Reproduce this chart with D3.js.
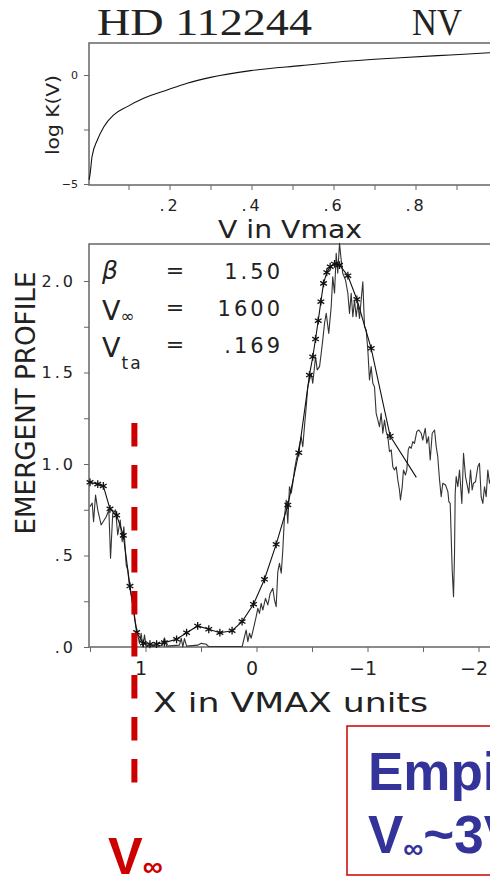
<!DOCTYPE html>
<html>
<head>
<meta charset="utf-8">
<script src="https://cdn.jsdelivr.net/npm/d3@7"></script>
<style>
  body { margin: 0; background: #fff; }
  svg { display: block; }
  .ax text { font-family: "DejaVu Sans", sans-serif; fill: #222; }
</style>
</head>
<body>
<div id="chart"></div>
<script>
// --- top panel: log K(V) against V in Vmax
var vGrid = [0.004, 0.006, 0.011, 0.024, 0.040, 0.064, 0.097, 0.137, 0.194, 0.243, 0.300, 0.398, 0.52, 0.641, 0.763, 0.885, 0.98, 1.0];
var logK  = [-4.8, -4.59, -3.75, -2.98, -2.37, -1.83, -1.45, -1.07, -0.69, -0.38, -0.11, 0.20, 0.43, 0.64, 0.79, 0.92, 1.02, 1.04];
var topXTicks = [0.1, 0.2, 0.3, 0.4, 0.5, 0.6, 0.7, 0.8, 0.9];
var topXLabels = ["", ".2", "", ".4", "", ".6", "", ".8", ""];
var topYTicks = [0, -2.5, -5];
var topYLabels = ["0", "", "\u22125"];

// --- bottom panel: emergent profile, model (stars) and observed spectrum
var modelX = [1.50, 1.43, 1.38, 1.32, 1.26, 1.20, 1.14, 1.08, 1.02, 0.96, 0.90, 0.83, 0.72, 0.63, 0.53, 0.43, 0.33, 0.22, 0.13, 0.027, -0.072, -0.177, -0.282, -0.381, -0.477, -0.507, -0.532, -0.556, -0.58, -0.604, -0.633, -0.664, -0.703, -0.748, -0.823, -0.904, -1.033, -1.204, -1.44];
var modelY = [0.90, 0.89, 0.88, 0.755, 0.72, 0.61, 0.333, 0.08, 0.02, 0.015, 0.016, 0.024, 0.042, 0.078, 0.115, 0.097, 0.078, 0.089, 0.139, 0.234, 0.37, 0.561, 0.776, 1.062, 1.486, 1.586, 1.683, 1.783, 1.887, 1.987, 2.047, 2.078, 2.093, 2.087, 2.029, 1.90, 1.632, 1.153, 0.927];

var obsX = [1.50, 1.48, 1.468, 1.45, 1.43, 1.40, 1.354, 1.33, 1.315, 1.295, 1.27, 1.25, 1.228, 1.21, 1.195, 1.174, 1.16, 1.144, 1.114, 1.09, 1.07, 1.054, 1.039, 1.024, 1.009, 0.994, 0.964, 0.874, 0.847, 0.829, 0.81, 0.694, 0.678, 0.664, 0.649, 0.63, 0.529, 0.498, 0.453, 0.432, 0.129, 0.108, 0.093, 0.078, 0.063, 0.048, 0.027, 0.003, -0.012, -0.027, -0.042, -0.057, -0.081, -0.102, -0.123, -0.147, -0.162, -0.177, -0.192, -0.207, -0.223, -0.237, -0.252, -0.268, -0.282, -0.297, -0.313, -0.327, -0.342, -0.358, -0.372, -0.403, -0.417, -0.432, -0.448, -0.462, -0.477, -0.493, -0.507, -0.532, -0.547, -0.568, -0.583, -0.597, -0.613, -0.628, -0.651, -0.673, -0.687, -0.703, -0.718, -0.732, -0.748, -0.763, -0.777, -0.802, -0.823, -0.838, -0.853, -0.868, -0.883, -0.898, -0.913, -0.928, -0.943, -0.958, -0.973, -0.988, -1.003, -1.018, -1.033, -1.048, -1.063, -1.078, -1.108, -1.123, -1.138, -1.153, -1.168, -1.183, -1.198, -1.214, -1.228, -1.243, -1.259, -1.273, -1.288, -1.297, -1.313, -1.324, -1.342, -1.354, -1.367, -1.378, -1.394, -1.408, -1.423, -1.444, -1.462, -1.484, -1.498, -1.52, -1.534, -1.55, -1.565, -1.583, -1.604, -1.619, -1.633, -1.649, -1.664, -1.678, -1.703, -1.724, -1.733, -1.745, -1.754, -1.763, -1.775, -1.784, -1.79, -1.799, -1.814, -1.829, -1.85, -1.865, -1.883, -1.913, -1.928, -1.943, -1.955, -1.973, -1.994, -2.009, -2.024, -2.039, -2.054, -2.069, -2.084, -2.099, -2.12];
var obsY = [0.767, 0.787, 0.685, 0.83, 0.749, 0.667, 0.712, 0.749, 0.485, 0.731, 0.749, 0.612, 0.694, 0.575, 0.657, 0.448, 0.42, 0.33, 0.239, 0.13, 0.066, 0.02, 0.075, 0.0, 0.066, 0.0, 0.005, 0.005, 0.01, 0.05, 0.005, 0.01, 0.048, 0.0, 0.046, 0.005, 0.01, 0.02, 0.015, 0.003, 0.003, 0.056, 0.093, 0.029, 0.075, 0.048, 0.102, 0.166, 0.211, 0.184, 0.239, 0.202, 0.266, 0.23, 0.293, 0.321, 0.257, 0.22, 0.411, 0.457, 0.403, 0.53, 0.712, 0.803, 0.676, 0.876, 0.84, 0.895, 0.967, 1.022, 1.058, 1.149, 1.094, 1.204, 1.313, 1.422, 1.459, 1.496, 1.441, 1.586, 1.514, 1.532, 1.605, 1.678, 1.769, 1.823, 1.714, 1.86, 2.023, 1.933, 2.151, 2.042, 2.206, 2.115, 2.042, 2.005, 1.933, 1.823, 1.933, 1.805, 1.896, 1.805, 1.878, 1.796, 1.896, 1.996, 1.75, 1.732, 1.623, 1.459, 1.532, 1.441, 1.422, 1.277, 1.204, 1.277, 1.168, 1.24, 1.177, 1.149, 1.067, 1.077, 0.985, 0.967, 0.985, 0.913, 0.858, 0.803, 0.876, 0.967, 0.94, 0.967, 1.077, 1.095, 1.086, 1.122, 1.113, 1.177, 1.186, 1.168, 1.131, 1.195, 1.113, 1.149, 1.022, 1.168, 1.186, 1.095, 1.04, 0.913, 0.821, 0.895, 0.885, 0.849, 0.794, 0.785, 0.603, 0.421, 0.275, 0.512, 0.84, 0.931, 0.876, 0.967, 0.785, 1.058, 0.931, 0.84, 0.967, 0.858, 0.895, 0.903, 0.985, 1.004, 0.821, 0.785, 0.876, 0.821, 0.967, 0.895, 0.94];

var botXTicks = [1.5, 1, 0.5, 0, -0.5, -1, -1.5, -2, -2.5];
var botXLabels = ["", "1", "", "0", "", "\u22121", "", "\u22122", ""];
var botYTicks = [0, 0.25, 0.5, 0.75, 1, 1.25, 1.5, 1.75, 2];
var botYLabels = [".0", "", ".5", "", "1.0", "", "1.5", "", "2.0"];

var params = [
  {name: "\u03b2", sub: "", value: "1.50"},
  {name: "V", sub: "\u221e", value: "1600"},
  {name: "V", sub: "ta", value: ".169"}
];
var vInfX = 1.1;   // red dashed marker, in X (VMAX units)

var W = 490, H = 885;
var svg = d3.select("#chart").append("svg")
  .attr("width", W)
  .attr("height", H)
  .style("background", "#fff");

var ink = "#222", frame = "#666";

// title
svg.append("text")
  .attr("x", 97).attr("y", 35)
  .attr("font-family", "Liberation Serif, serif")
  .attr("font-size", 38)
  .attr("fill", ink)
  .attr("textLength", 215).attr("lengthAdjust", "spacingAndGlyphs")
  .text("HD 112244");
svg.append("text")
  .attr("x", 412).attr("y", 35)
  .attr("font-family", "Liberation Serif, serif")
  .attr("font-size", 38)
  .attr("fill", ink)
  .attr("textLength", 50).attr("lengthAdjust", "spacingAndGlyphs")
  .text("NV");

// ---------- top panel
var x1 = d3.scaleLinear().domain([0, 1]).range([87.5, 497.5]);
var y1 = d3.scaleLinear().domain([-5, 0]).range([184, 75]);
var top1 = 43, bot1 = 185, left1 = 89;

var g1 = svg.append("g");
g1.append("path")
  .attr("d", "M" + W + "," + top1 + "H" + left1 + "V" + bot1 + "H" + W)
  .attr("fill", "none").attr("stroke", frame).attr("stroke-width", 1.5);

var xAxis1 = g1.append("g").attr("class", "ax")
  .attr("transform", "translate(0," + bot1 + ")")
  .call(d3.axisBottom(x1).tickValues(topXTicks).tickSize(5).tickPadding(10)
    .tickFormat((d, i) => topXLabels[i]));
xAxis1.select(".domain").remove();
xAxis1.selectAll("line").attr("stroke", frame);
xAxis1.selectAll("text").attr("font-size", 16).attr("letter-spacing", 3);

var yAxis1 = g1.append("g").attr("class", "ax")
  .attr("transform", "translate(" + left1 + ",0)")
  .call(d3.axisLeft(y1).tickValues(topYTicks).tickSize(5).tickPadding(6)
    .tickFormat((d, i) => topYLabels[i]));
yAxis1.select(".domain").remove();
yAxis1.selectAll("line").attr("stroke", frame);
yAxis1.selectAll("text").attr("font-size", 11);

g1.append("path")
  .datum(d3.range(vGrid.length))
  .attr("fill", "none")
  .attr("stroke", "#111")
  .attr("stroke-width", 1.1)
  .attr("d", d3.line().curve(d3.curveMonotoneX)
    .x(i => x1(vGrid[i])).y(i => y1(logK[i])));

g1.append("text")
  .attr("transform", "translate(59,115) rotate(-90)")
  .attr("text-anchor", "middle")
  .attr("font-family", "DejaVu Sans, sans-serif")
  .attr("font-size", 17).attr("fill", ink)
  .attr("textLength", 80).attr("lengthAdjust", "spacingAndGlyphs")
  .text("log K(V)");

g1.append("text")
  .attr("x", 218).attr("y", 238)
  .attr("font-family", "DejaVu Sans, sans-serif")
  .attr("font-size", 25).attr("fill", ink)
  .attr("textLength", 144).attr("lengthAdjust", "spacingAndGlyphs")
  .text("V in Vmax");

// ---------- bottom panel
var x2 = d3.scaleLinear().domain([1.5, -2.5]).range([90, 534]);
var y2 = d3.scaleLinear().domain([0, 2]).range([647, 281]);
var top2 = 244, bot2 = 647, left2 = 89;

var g2 = svg.append("g");
g2.append("path")
  .attr("d", "M" + W + "," + top2 + "H" + left2 + "V" + bot2 + "H" + W)
  .attr("fill", "none").attr("stroke", frame).attr("stroke-width", 1.5);

var xAxis2 = g2.append("g").attr("class", "ax")
  .attr("transform", "translate(0," + bot2 + ")")
  .call(d3.axisBottom(x2).tickValues(botXTicks).tickSize(5).tickPadding(10)
    .tickFormat((d, i) => botXLabels[i]));
xAxis2.select(".domain").remove();
xAxis2.selectAll("line").attr("stroke", frame);
xAxis2.selectAll("text").attr("font-size", 19).attr("dx", -5);

var yAxis2 = g2.append("g").attr("class", "ax")
  .attr("transform", "translate(" + left2 + ",0)")
  .call(d3.axisLeft(y2).tickValues(botYTicks).tickSize(5).tickPadding(8)
    .tickFormat((d, i) => botYLabels[i]));
yAxis2.select(".domain").remove();
yAxis2.selectAll("line").attr("stroke", frame);
yAxis2.selectAll("text").attr("font-size", 16).attr("letter-spacing", 3);

var plot = g2.append("g");

// observed spectrum
plot.append("path")
  .datum(d3.range(obsX.length))
  .attr("fill", "none")
  .attr("stroke", "#333")
  .attr("stroke-width", 1.1)
  .attr("stroke-linejoin", "round")
  .attr("d", d3.line().x(i => x2(obsX[i])).y(i => y2(obsY[i])));

// model profile
plot.append("path")
  .datum(d3.range(modelX.length))
  .attr("fill", "none")
  .attr("stroke", "#111")
  .attr("stroke-width", 1.1)
  .attr("d", d3.line().x(i => x2(modelX[i])).y(i => y2(modelY[i])));

plot.selectAll(".star")
  .data(d3.range(modelX.length - 1))
  .enter().append("path")
  .attr("class", "star")
  .attr("transform", i => "translate(" + x2(modelX[i]) + "," + y2(modelY[i]) + ")")
  .attr("d", d3.symbol(d3.symbolAsterisk, 42))
  .attr("fill", "none")
  .attr("stroke", "#111")
  .attr("stroke-width", 1.3);

// parameter block
var ff = "DejaVu Sans, sans-serif";
var rowY = [279, 316, 353];
params.forEach((p, i) => {
  var t = g2.append("text")
    .attr("x", 102).attr("y", rowY[i] + (i === 0 ? 0 : 4))
    .attr("font-family", ff).attr("fill", ink)
    .attr("font-size", p.sub ? 27 : 25)
    .attr("font-style", p.sub ? "normal" : "italic");
  t.append("tspan").text(p.name);
  if (p.sub) {
    t.append("tspan")
      .attr("font-size", 17)
      .attr("dy", i === 1 ? 2 : 12)
      .attr("dx", i === 1 ? 0 : 1)
      .attr("letter-spacing", 2)
      .text(p.sub);
  }
  g2.append("text")
    .attr("x", 175).attr("y", rowY[i] - 1)
    .attr("text-anchor", "middle")
    .attr("font-family", ff).attr("font-size", 22).attr("fill", ink)
    .text("=");
  g2.append("text")
    .attr("x", 283).attr("y", rowY[i])
    .attr("text-anchor", "end")
    .attr("font-family", ff).attr("font-size", 21).attr("fill", ink)
    .attr("letter-spacing", 3)
    .text(p.value);
});

g2.append("text")
  .attr("transform", "translate(35,403) rotate(-90)")
  .attr("text-anchor", "middle")
  .attr("font-family", ff)
  .attr("font-size", 27).attr("fill", ink)
  .attr("textLength", 263).attr("lengthAdjust", "spacingAndGlyphs")
  .text("EMERGENT PROFILE");

g2.append("text")
  .attr("x", 153).attr("y", 712)
  .attr("font-family", ff)
  .attr("font-size", 26).attr("fill", ink)
  .attr("textLength", 275).attr("lengthAdjust", "spacingAndGlyphs")
  .text("X in VMAX units");

// ---------- annotations
var red = "#cc0000";
svg.append("line")
  .attr("x1", x2(vInfX)).attr("x2", x2(vInfX))
  .attr("y1", 423).attr("y2", 784)
  .attr("stroke", red).attr("stroke-width", 6)
  .attr("stroke-dasharray", "23.5 18.5");

var vl = svg.append("text")
  .attr("x", 108).attr("y", 874)
  .attr("font-family", "Liberation Sans, Arial, sans-serif")
  .attr("font-weight", "bold").attr("font-size", 52)
  .attr("fill", red);
vl.append("tspan").text("V");
vl.append("tspan").attr("font-size", 28).attr("dy", 2).text("\u221e");

svg.append("rect")
  .attr("x", 347).attr("y", 726)
  .attr("width", 200).attr("height", 149)
  .attr("fill", "none").attr("stroke", red).attr("stroke-width", 1.5);

var blue = "#333399";
svg.append("text")
  .attr("x", 368).attr("y", 790)
  .attr("font-family", "Liberation Sans, Arial, sans-serif")
  .attr("font-weight", "bold").attr("font-size", 53)
  .attr("fill", blue)
  .text("Empirical");
var l2 = svg.append("text")
  .attr("x", 368).attr("y", 853)
  .attr("font-family", "Liberation Sans, Arial, sans-serif")
  .attr("font-weight", "bold").attr("font-size", 53)
  .attr("fill", blue);
l2.append("tspan").text("V");
l2.append("tspan").attr("font-size", 28).attr("dy", 5).text("\u221e");
l2.append("tspan").attr("dy", -5).text("~3V");
</script>
</body>
</html>
